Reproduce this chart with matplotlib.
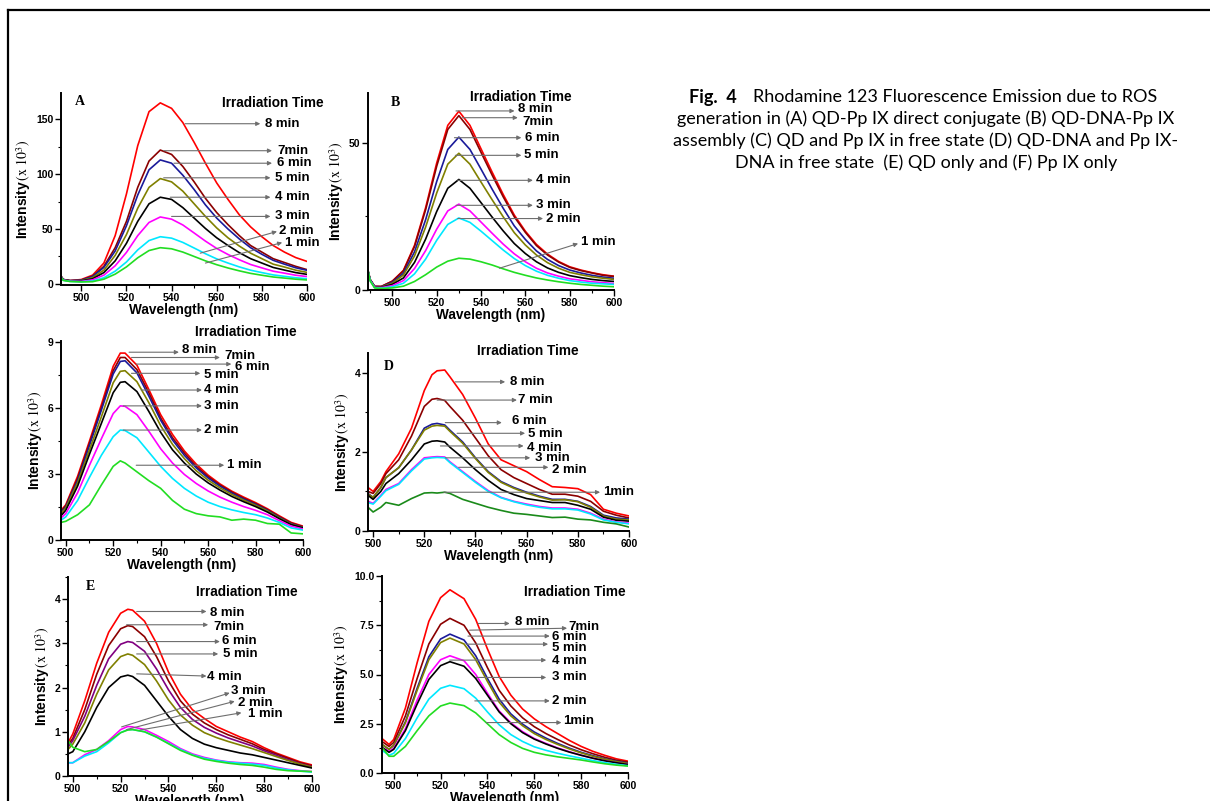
import matplotlib
matplotlib.use('Agg')
import matplotlib.pyplot as plt
from matplotlib.lines import Line2D
from matplotlib.ticker import MultipleLocator, FormatStrFormatter

plt.rcParams['font.family'] = ['Liberation Sans', 'DejaVu Sans']
plt.rcParams['mathtext.fontset'] = 'stix'

# ---------------- data (intensity in units of 10^3), series order 8 min -> 1 min
wl_A = [490, 492, 495, 500, 505, 510, 515, 520, 525, 530, 535, 540, 545, 550,
        555, 560, 565, 570, 575, 580, 585, 590, 595, 600]
int_A = [
    [10, 4, 3, 4, 8, 19, 44, 82, 126, 157, 165, 160, 147, 129, 110, 92, 77, 63, 52, 43, 35, 29, 24, 20.5],
    [10, 4, 3, 3.5, 7, 16, 33, 57, 88, 112, 122, 118, 107, 93, 78, 65, 54, 44, 35, 29, 23, 19.5, 16, 13],
    [10, 4, 3, 3.4, 6.8, 15, 30, 53, 81, 104, 113, 110, 99, 86, 72, 60, 50, 41, 33, 27, 21.5, 18, 14.7, 12.4],
    [9.5, 3.8, 2.8, 3, 5.8, 12.5, 26, 45, 69, 88, 96, 93, 84.5, 73, 61.5, 51, 42, 34.5, 28, 23, 18, 15.4, 12.5, 10.5],
    [9.5, 3.6, 2.7, 2.7, 4.7, 10.3, 21, 37, 57, 73, 79, 77, 69.5, 60, 50.5, 42, 35, 28.5, 23, 19, 15, 12.6, 10.3, 8.7],
    [9, 3.5, 2.5, 2.3, 3.7, 8, 16.5, 28.7, 44, 56, 61, 59, 53.7, 46.4, 39, 32.3, 26.8, 22, 17.7, 14.6, 11.6, 9.8, 7.9, 6.7],
    [9, 3.3, 2.3, 2, 2.6, 5.6, 11.6, 20, 31, 39.5, 43, 41.7, 37.8, 32.7, 27.5, 22.8, 19, 15.5, 12.5, 10.3, 8.2, 6.9, 5.6, 4.7],
    [9, 3.2, 2.2, 1.8, 2, 4.3, 8.9, 15.5, 23.8, 30.4, 33, 32, 29, 25, 21, 17.5, 14.5, 11.9, 9.6, 7.9, 6.3, 5.3, 4.3, 3.6],
]

wl_B = [489, 490, 492, 495, 500, 505, 510, 515, 520, 525, 530, 535, 540, 545,
        550, 555, 560, 565, 570, 575, 580, 585, 590, 595, 600]
int_B = [
    [6.5, 3.5, 1.2, 1.2, 3, 6.7, 15.2, 28, 43.2, 56, 60.8, 56, 48, 40.1, 32.5, 25.5, 20, 15.5, 12.2, 9.7, 7.9, 6.8, 5.9, 5.2, 4.7],
    [6.5, 3.5, 1.2, 1.2, 3, 6.5, 14.8, 27.3, 42.1, 54.6, 59.3, 54.6, 46.8, 39.1, 31.7, 24.9, 19.6, 15.1, 11.9, 9.5, 7.7, 6.6, 5.8, 5, 4.6],
    [6.5, 3.5, 1.2, 1.1, 2.6, 5.7, 13, 23.9, 36.9, 47.8, 52, 47.8, 41.1, 34.3, 27.8, 21.8, 17.2, 13.3, 10.4, 8.3, 6.8, 5.8, 5, 4.4, 4],
    [6.5, 3.5, 1.1, 1.0, 2.3, 5.1, 11.6, 21.4, 33, 42.8, 46.5, 42.8, 36.7, 30.7, 24.9, 19.5, 15.3, 11.9, 9.3, 7.4, 6, 5.2, 4.5, 4, 3.6],
    [6.5, 3.4, 1.0, 0.9, 1.9, 4.1, 9.4, 17.3, 26.7, 34.6, 37.6, 34.6, 29.7, 24.8, 20.1, 15.8, 12.4, 9.6, 7.5, 6, 4.9, 4.2, 3.6, 3.2, 2.9],
    [6.5, 3.3, 0.9, 0.8, 1.5, 3.2, 7.3, 13.4, 20.7, 26.9, 29.2, 26.9, 23.1, 19.3, 15.6, 12.3, 9.6, 7.4, 5.8, 4.7, 3.8, 3.3, 2.8, 2.5, 2.2],
    [6.5, 3.2, 0.8, 0.6, 1.1, 2.3, 5.5, 10.5, 16.9, 22.3, 24.5, 23, 20, 16.8, 13.6, 10.7, 8.3, 6.4, 5, 4, 3.2, 2.7, 2.3, 2.1, 1.9],
    [6.8, 3.0, 0.7, 0.5, 0.7, 1.3, 2.9, 5.2, 7.8, 9.8, 10.8, 10.5, 9.6, 8.5, 7.2, 6, 5, 4.1, 3.4, 2.8, 2.3, 1.9, 1.6, 1.3, 1.1],
]

wl_C = [498, 500, 505, 510, 515, 520, 523, 525, 530, 535, 540, 545, 550, 555,
        560, 565, 570, 575, 580, 585, 590, 595, 600]
int_C = [
    [1.35, 1.6, 2.9, 4.5, 6.15, 7.9, 8.5, 8.5, 7.95, 6.85, 5.7, 4.8, 4.05, 3.45, 2.95, 2.55, 2.22, 1.95, 1.7, 1.42, 1.1, 0.8, 0.63],
    [1.3, 1.55, 2.8, 4.4, 6.0, 7.7, 8.3, 8.3, 7.75, 6.7, 5.55, 4.65, 3.95, 3.35, 2.88, 2.5, 2.18, 1.9, 1.66, 1.38, 1.06, 0.77, 0.6],
    [1.25, 1.5, 2.7, 4.3, 5.9, 7.55, 8.12, 8.15, 7.6, 6.55, 5.45, 4.55, 3.85, 3.28, 2.82, 2.45, 2.13, 1.86, 1.62, 1.35, 1.03, 0.74, 0.58],
    [1.2, 1.45, 2.6, 4.1, 5.6, 7.15, 7.67, 7.7, 7.2, 6.25, 5.2, 4.35, 3.7, 3.15, 2.72, 2.37, 2.07, 1.81, 1.58, 1.32, 1.0, 0.72, 0.56],
    [1.1, 1.35, 2.45, 3.9, 5.3, 6.7, 7.17, 7.2, 6.75, 5.85, 4.9, 4.1, 3.5, 3.0, 2.6, 2.27, 1.98, 1.74, 1.52, 1.27, 0.97, 0.7, 0.55],
    [1.0, 1.2, 2.15, 3.4, 4.6, 5.75, 6.1, 6.08, 5.7, 4.95, 4.15, 3.5, 2.98, 2.57, 2.23, 1.95, 1.72, 1.52, 1.35, 1.15, 0.88, 0.63, 0.5],
    [0.9, 1.05, 1.8, 2.85, 3.85, 4.7, 5.0, 4.98, 4.65, 4.0, 3.35, 2.8, 2.35, 2.0, 1.72, 1.52, 1.37, 1.25, 1.15, 1.0, 0.8, 0.55, 0.45],
    [0.8, 0.85, 1.15, 1.6, 2.5, 3.35, 3.6, 3.5, 3.1, 2.7, 2.35, 1.8, 1.4, 1.2, 1.1, 1.05, 0.9, 0.95, 0.9, 0.75, 0.72, 0.32, 0.28],
]

wl_D = [498, 500, 503, 505, 510, 515, 520, 523, 525, 528, 530, 535, 540, 545,
        550, 555, 560, 565, 570, 575, 580, 585, 590, 595, 600]
int_D = [
    [1.1, 1.0, 1.25, 1.5, 1.95, 2.6, 3.55, 3.95, 4.05, 4.07, 3.9, 3.45, 2.85, 2.2, 1.8, 1.65, 1.5, 1.3, 1.12, 1.1, 1.07, 0.92, 0.55, 0.45, 0.38],
    [1.0, 0.95, 1.2, 1.45, 1.8, 2.4, 3.15, 3.33, 3.35, 3.3, 3.15, 2.8, 2.35, 1.9, 1.55, 1.35, 1.2, 1.05, 0.93, 0.93, 0.88, 0.75, 0.5, 0.4, 0.33],
    [0.95, 0.85, 1.1, 1.35, 1.6, 2.05, 2.6, 2.7, 2.72, 2.68, 2.55, 2.25, 1.85, 1.5, 1.25, 1.1, 0.98, 0.88, 0.8, 0.8, 0.75, 0.62, 0.4, 0.33, 0.3],
    [0.93, 0.85, 1.1, 1.35, 1.6, 2.05, 2.55, 2.65, 2.67, 2.65, 2.52, 2.22, 1.83, 1.48, 1.23, 1.08, 0.96, 0.86, 0.78, 0.79, 0.74, 0.6, 0.38, 0.3, 0.28],
    [0.9, 0.8, 1.0, 1.2, 1.45, 1.8, 2.2, 2.27, 2.28, 2.25, 2.12, 1.85, 1.55, 1.28, 1.05, 0.92, 0.82, 0.77, 0.72, 0.72, 0.65, 0.55, 0.35, 0.27, 0.25],
    [0.75, 0.7, 0.9, 1.05, 1.2, 1.55, 1.85, 1.87, 1.88, 1.87, 1.75, 1.5, 1.25, 1.02, 0.85, 0.75, 0.68, 0.62, 0.58, 0.58, 0.55, 0.45, 0.3, 0.23, 0.2],
    [0.72, 0.68, 0.88, 1.02, 1.18, 1.52, 1.82, 1.85, 1.86, 1.85, 1.73, 1.48, 1.23, 1.0, 0.84, 0.74, 0.66, 0.6, 0.56, 0.56, 0.53, 0.43, 0.28, 0.22, 0.18],
    [0.6, 0.48, 0.6, 0.72, 0.65, 0.82, 0.96, 0.97, 0.96, 0.98, 0.95, 0.8, 0.7, 0.6, 0.52, 0.45, 0.42, 0.38, 0.34, 0.35, 0.3, 0.28, 0.22, 0.18, 0.1],
]

wl_E = [498, 500, 505, 510, 515, 520, 523, 525, 530, 535, 540, 545, 550, 555,
        560, 565, 570, 575, 580, 585, 590, 595, 600]
int_E = [
    [0.75, 0.95, 1.7, 2.55, 3.25, 3.68, 3.77, 3.75, 3.5, 3.0, 2.35, 1.85, 1.5, 1.3, 1.12, 1.0, 0.88, 0.78, 0.64, 0.52, 0.42, 0.32, 0.25],
    [0.7, 0.85, 1.5, 2.3, 2.95, 3.33, 3.4, 3.38, 3.15, 2.7, 2.15, 1.7, 1.4, 1.2, 1.05, 0.93, 0.83, 0.73, 0.6, 0.5, 0.4, 0.3, 0.23],
    [0.65, 0.8, 1.35, 2.05, 2.65, 2.98, 3.04, 3.02, 2.82, 2.42, 1.95, 1.55, 1.28, 1.1, 0.97, 0.86, 0.77, 0.68, 0.57, 0.47, 0.37, 0.28, 0.21],
    [0.6, 0.72, 1.2, 1.85, 2.4, 2.7, 2.76, 2.73, 2.52, 2.15, 1.72, 1.38, 1.15, 0.98, 0.87, 0.78, 0.7, 0.62, 0.53, 0.44, 0.35, 0.27, 0.2],
    [0.5, 0.55, 1.0, 1.55, 2.0, 2.24, 2.28, 2.25, 2.05, 1.7, 1.35, 1.05, 0.85, 0.72, 0.64, 0.58, 0.52, 0.48, 0.42, 0.36, 0.3, 0.24, 0.18],
    [0.3, 0.3, 0.48, 0.6, 0.8, 1.05, 1.12, 1.11, 1.05, 0.92, 0.78, 0.62, 0.5, 0.42, 0.36, 0.32, 0.3, 0.29, 0.26, 0.2, 0.15, 0.12, 0.1],
    [0.3, 0.3, 0.45, 0.55, 0.75, 0.98, 1.05, 1.05, 1.0, 0.88, 0.74, 0.6, 0.48, 0.4, 0.35, 0.31, 0.29, 0.27, 0.24, 0.18, 0.14, 0.11, 0.09],
    [0.8, 0.65, 0.55, 0.6, 0.78, 0.98, 1.04, 1.05, 1.0, 0.88, 0.73, 0.58, 0.47, 0.38, 0.33, 0.29, 0.26, 0.24, 0.2, 0.15, 0.12, 0.11, 0.1],
]

wl_F = [495, 498, 500, 505, 510, 515, 520, 524, 530, 535, 540, 545, 550, 555,
        560, 565, 570, 575, 580, 585, 590, 595, 600]
int_F = [
    [1.75, 1.45, 1.7, 3.3, 5.6, 7.7, 8.9, 9.3, 8.85, 7.8, 6.3, 4.9, 3.95, 3.25, 2.75, 2.35, 2.0, 1.65, 1.35, 1.1, 0.9, 0.72, 0.6],
    [1.6, 1.35, 1.55, 2.9, 4.8, 6.55, 7.55, 7.85, 7.5, 6.6, 5.35, 4.2, 3.4, 2.8, 2.35, 2.0, 1.7, 1.42, 1.18, 0.98, 0.8, 0.65, 0.55],
    [1.45, 1.2, 1.4, 2.6, 4.3, 5.9, 6.8, 7.05, 6.75, 5.95, 4.8, 3.75, 3.0, 2.48, 2.08, 1.77, 1.5, 1.26, 1.05, 0.88, 0.72, 0.6, 0.5],
    [1.45, 1.2, 1.4, 2.55, 4.2, 5.75, 6.62, 6.85, 6.55, 5.75, 4.65, 3.6, 2.9, 2.4, 2.0, 1.7, 1.45, 1.22, 1.02, 0.85, 0.7, 0.58, 0.48],
    [1.3, 1.1, 1.25, 2.25, 3.7, 5.0, 5.75, 5.95, 5.7, 5.0, 4.05, 3.15, 2.55, 2.1, 1.75, 1.5, 1.27, 1.08, 0.9, 0.75, 0.62, 0.52, 0.43],
    [1.3, 1.05, 1.2, 2.15, 3.5, 4.75, 5.45, 5.65, 5.42, 4.8, 3.95, 3.1, 2.5, 2.05, 1.72, 1.47, 1.25, 1.06, 0.9, 0.75, 0.62, 0.52, 0.43],
    [1.15, 0.9, 1.0, 1.75, 2.8, 3.75, 4.3, 4.45, 4.28, 3.8, 3.1, 2.45, 1.95, 1.6, 1.33, 1.15, 1.0, 0.87, 0.75, 0.63, 0.53, 0.44, 0.37],
    [1.3, 0.85, 0.85, 1.35, 2.15, 2.9, 3.4, 3.55, 3.42, 3.05, 2.5, 1.95, 1.55, 1.25, 1.05, 0.92, 0.82, 0.74, 0.66, 0.56, 0.47, 0.4, 0.35],
]

lab_A = ['8 min', '7min', '6 min', '5 min', '4 min', '3 min', '2 min', '1 min']
lab_D = ['8 min', '7 min', '6 min', '5 min', '4 min', '3 min', '2 min', '1min']
lab_F = ['8 min', '7min', '6 min', '5 min', '4 min', '3 min', '2 min', '1min']

caption = ['generation in (A) QD-Pp IX direct conjugate (B) QD-DNA-Pp IX',
           'assembly (C) QD and Pp IX in free state (D) QD-DNA and Pp IX-',
           'DNA in free state  (E) QD only and (F) Pp IX only']

# ---------------- styles / layout
RED, WINE, NAVY, OLIVE = '#ff0000', '#8b0000', '#1a1a9a', '#808000'
MAG, CYAN, GREEN = '#ff00ff', '#00e8ff', '#22dd22'
col_std = [RED, WINE, NAVY, OLIVE, 'k', MAG, CYAN, GREEN]
col_D = [RED, WINE, NAVY, OLIVE, 'k', MAG, CYAN, '#1a8a1a']
col_E = [RED, WINE, '#800080', OLIVE, 'k', MAG, CYAN, GREEN]
col_F = [RED, WINE, NAVY, OLIVE, MAG, 'k', CYAN, GREEN]

# arrow tail (on curve), arrow head, label position -- in data coordinates
arr_A = ([(546, 146), (536.5, 121.4), (541, 110), (536.5, 96.7), (539.4, 79), (540, 61.5), (552.7, 28), (555, 19)],
         [(579.3, 146), (584.5, 121.4), (584.5, 110), (583.8, 96.7), (583.8, 79), (583.8, 61.5), (586.7, 47.8), (589, 37.7)],
         [(581.5, 146), (586.7, 121.4), (586.7, 110), (586, 96.7), (586, 79), (586, 61.5), (587.4, 47.8), (590.4, 37.7)])
arr_B = ([(528.7, 60.9), (531.7, 58.6), (528, 51.8), (528.4, 45.8), (529.5, 37.3), (528.7, 28.8), (529.5, 24.3), (548.3, 7.4)],
         [(555.1, 60.9), (556.6, 58.6), (558.2, 51.8), (558.2, 45.8), (563.4, 37.3), (563.4, 28.8), (568, 24.3), (583.8, 15.8)],
         [(556.6, 61.4), (558.6, 57.1), (559.7, 51.8), (559.2, 45.8), (565, 37.3), (565, 28.8), (569.2, 24.3), (585.3, 16.4)])
arr_C = ([(526.7, 8.54), (527.7, 8.3), (529.7, 8.0), (527.7, 7.58), (531.8, 6.82), (524.2, 6.1), (524.2, 5.0), (529.7, 3.4)],
         [(547.7, 8.54), (565, 8.3), (569.8, 8.0), (556.7, 7.58), (557.4, 6.82), (557.4, 6.1), (557.4, 5.0), (566.8, 3.4)],
         [(549.1, 8.65), (566.8, 8.39), (571.2, 7.89), (558.1, 7.5), (558.1, 6.82), (558.1, 6.1), (558.1, 5.0), (567.8, 3.4)])
arr_D = ([(532.1, 3.77), (525, 3.31), (528.2, 2.74), (532.8, 2.47), (526.3, 2.15), (528.2, 1.85), (533.4, 1.61), (527.6, 0.98)],
         [(551.6, 3.77), (556.2, 3.31), (550.3, 2.74), (559.4, 2.47), (558.8, 2.15), (561.4, 1.85), (568.5, 1.61), (588.7, 0.98)],
         [(553.6, 3.77), (556.8, 3.31), (554.2, 2.79), (560.7, 2.44), (560, 2.11), (563.3, 1.84), (569.8, 1.54), (590, 0.98)])
arr_E = ([(526.7, 3.72), (522.5, 3.42), (526.7, 3.04), (526.7, 2.76), (526.7, 2.31), (520.4, 1.11), (522.5, 1.05), (528.1, 1.04)],
         [(555.9, 3.72), (556.6, 3.42), (561.5, 3.04), (560.8, 2.76), (555.9, 2.26), (565.6, 1.88), (567.7, 1.69), (570.5, 1.43)],
         [(557.3, 3.68), (558.7, 3.36), (562.2, 3.06), (562.6, 2.76), (556.2, 2.25), (566.3, 1.93), (569.1, 1.66), (573.3, 1.40)])
arr_F = ([(536, 7.59), (532.4, 7.25), (531.7, 6.95), (531, 6.54), (523.9, 5.73), (535.3, 4.85), (534.6, 3.66), (539.5, 2.56)],
         [(549.5, 7.59), (574, 7.35), (566.6, 6.95), (565.9, 6.54), (565.1, 5.73), (565.1, 4.85), (566.6, 3.66), (571.6, 2.56)],
         [(551.6, 7.65), (574.4, 7.42), (567.7, 6.92), (567.7, 6.36), (567.7, 5.69), (567.7, 4.85), (567.7, 3.66), (572.3, 2.64)])

W, H = 1210, 801


def px_rect(left, right, top, bottom):
    return [left / W, 1 - bottom / H, (right - left) / W, (bottom - top) / H]


def panel(fig, rect, wl, curves, colors, labels, arrows, xlim, ylim, ymaj, ymin,
          head_pos, letter=None, letter_pos=None, yfmt=None):
    ax = fig.add_axes(rect)
    for y, c in zip(curves, colors):
        ax.plot(wl, y, color=c, lw=1.2)
    ax.set_xlim(*xlim)
    ax.set_ylim(*ylim)
    for s in ['top', 'right']:
        ax.spines[s].set_visible(False)
    for s in ['left', 'bottom']:
        ax.spines[s].set_linewidth(1.4)
    ax.xaxis.set_major_locator(MultipleLocator(20))
    ax.xaxis.set_minor_locator(MultipleLocator(10))
    ax.yaxis.set_major_locator(MultipleLocator(ymaj))
    ax.yaxis.set_minor_locator(MultipleLocator(ymin))
    if yfmt:
        ax.yaxis.set_major_formatter(FormatStrFormatter(yfmt))
    ax.tick_params(which='major', length=4, width=1, labelsize=7.5, pad=1.5)
    ax.tick_params(which='minor', length=2, width=0.8)
    for t in ax.get_xticklabels() + ax.get_yticklabels():
        t.set_fontweight('bold')
    ax.set_xlabel('Wavelength (nm)', fontsize=9.8, fontweight='bold', labelpad=0)
    ax.set_ylabel(r'Intensity$\,(\mathrm{x\ 10}^{3})$', fontsize=10, fontweight='bold', labelpad=2)
    tails, heads, texts = arrows
    for lab, t, h, p in zip(labels, tails, heads, texts):
        ax.annotate('', xy=h, xytext=t,
                    arrowprops=dict(arrowstyle='-|>', color='#6e6e6e', lw=0.8,
                                    mutation_scale=6, shrinkA=0, shrinkB=0))
        ax.text(p[0], p[1], lab, ha='left', va='center', fontsize=9.5,
                fontweight='bold', clip_on=False)
    ax.text(head_pos[0], head_pos[1], 'Irradiation Time', ha='left', va='center',
            fontsize=9.8, fontweight='bold', clip_on=False)
    if letter:
        ax.text(letter_pos[0], letter_pos[1], letter, ha='left', va='center',
                fontsize=10, fontweight='bold', family='Liberation Serif')
    return ax


fig = plt.figure(figsize=(12.1, 8.01), dpi=100)

panel(fig, px_rect(61, 307, 93, 285), wl_A, int_A, col_std, lab_A, arr_A,
      (491, 600), (-1, 174), 50, 25, (562.3, 165), 'A', (497, 166))
panel(fig, px_rect(368, 614, 93, 290), wl_B, int_B, col_std, lab_A, arr_B,
      (489, 600), (0, 67), 50, 25, (535.2, 65.6), 'B', (499.2, 63.9))
panel(fig, px_rect(61, 303, 341, 540), wl_C, int_C, col_std, lab_A, arr_C,
      (498, 600), (0, 9.05), 3, 1.5, (554.6, 9.46))
panel(fig, px_rect(368, 629, 353, 531), wl_D, int_D, col_D, lab_D, arr_D,
      (498, 600), (0, 4.5), 2, 1, (540.6, 4.55), 'D', (504.2, 4.15))
panel(fig, px_rect(68, 312, 577, 776), wl_E, int_E, col_E, lab_A, arr_E,
      (498, 600), (0, 4.5), 1, 0.5, (551.5, 4.15), 'E', (505.6, 4.29))
panel(fig, px_rect(382, 628, 576, 773), wl_F, int_F, col_F, lab_F, arr_F,
      (495, 600), (0, 10), 2.5, 1.25, (555.6, 9.2), yfmt='%.1f')

# caption
fig.text(689 / W, 1 - 97 / H, 'Fig.  4', fontsize=13, fontweight='bold',
         family='Lato', ha='left', va='center')
fig.text(753 / W, 1 - 97 / H, 'Rhodamine 123 Fluorescence Emission due to ROS',
         fontsize=13, family='Lato', ha='left', va='center')
for i, line in enumerate(caption):
    fig.text(926 / W, 1 - (119 + 22 * i) / H, line, fontsize=13, family='Lato',
             ha='center', va='center')

# frame lines (top and left)
fig.add_artist(Line2D([8 / W, 1], [1 - 10 / H, 1 - 10 / H], color='k', lw=1.6,
                      transform=fig.transFigure))
fig.add_artist(Line2D([8 / W, 8 / W], [0, 1 - 10 / H], color='k', lw=1.6,
                      transform=fig.transFigure))

fig.savefig('out.png', dpi=100)
